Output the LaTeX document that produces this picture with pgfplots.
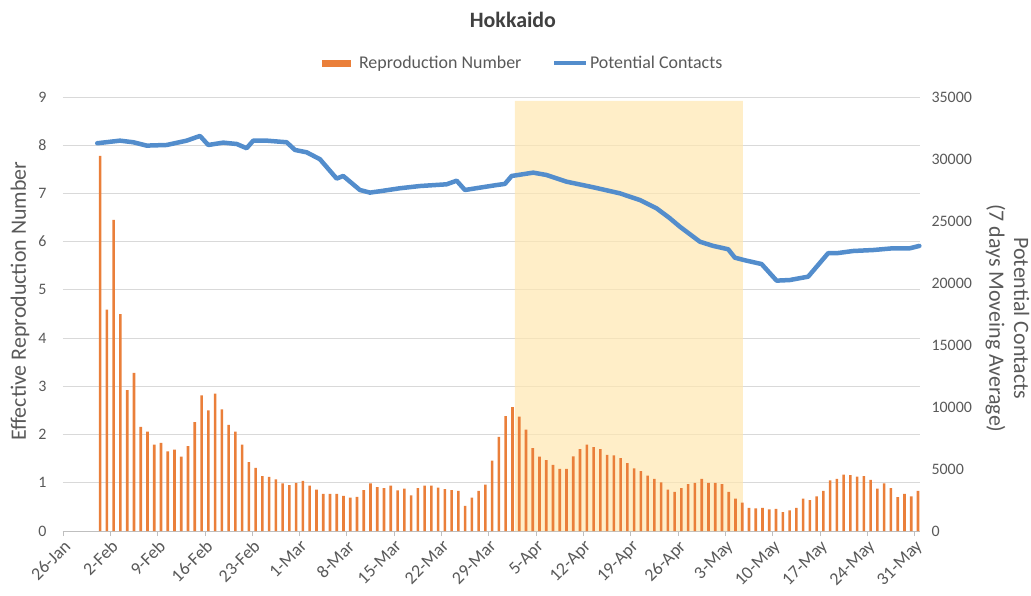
\documentclass[border=0pt]{standalone}
\usepackage{pgfplots}
\pgfplotsset{compat=1.18}
\usepackage{pgfplotstable}
\usepackage{fontspec}
\setmainfont{Carlito}

\definecolor{RepOrange}{RGB}{234,127,58}
\definecolor{ContBlue}{RGB}{83,141,204}
\definecolor{ShadeBase}{RGB}{255,231,176}
\definecolor{GridGray}{RGB}{217,217,217}
\definecolor{AxisGray}{RGB}{191,191,191}
\definecolor{TextGray}{RGB}{89,89,89}
\definecolor{TitleGray}{RGB}{64,64,64}

% day 0 = 26-Jan, effective reproduction number per day
\pgfplotstableread{
day r
5 7.78
6 4.59
7 6.45
8 4.50
9 2.92
10 3.28
11 2.16
12 2.06
13 1.79
14 1.83
15 1.65
16 1.69
17 1.54
18 1.76
19 2.26
20 2.81
21 2.50
22 2.85
23 2.52
24 2.20
25 2.06
26 1.79
27 1.43
28 1.31
29 1.14
30 1.12
31 1.07
32 0.99
33 0.95
34 1.00
35 1.04
36 0.94
37 0.86
38 0.77
39 0.77
40 0.77
41 0.73
42 0.69
43 0.71
44 0.85
45 0.99
46 0.91
47 0.89
48 0.94
49 0.84
50 0.88
51 0.74
52 0.89
53 0.94
54 0.94
55 0.90
56 0.87
57 0.85
58 0.83
59 0.52
60 0.69
61 0.83
62 0.96
63 1.46
64 1.95
65 2.38
66 2.57
67 2.37
68 2.10
69 1.72
70 1.54
71 1.47
72 1.37
73 1.29
74 1.29
75 1.55
76 1.70
77 1.79
78 1.74
79 1.70
80 1.58
81 1.57
82 1.51
83 1.41
84 1.30
85 1.24
86 1.15
87 1.08
88 1.01
89 0.86
90 0.81
91 0.89
92 0.97
93 1.00
94 1.08
95 1.00
96 1.00
97 0.97
98 0.81
99 0.67
100 0.59
101 0.48
102 0.47
103 0.48
104 0.45
105 0.46
106 0.39
107 0.43
108 0.48
109 0.67
110 0.64
111 0.72
112 0.83
113 1.05
114 1.08
115 1.17
116 1.16
117 1.13
118 1.14
119 1.06
120 0.88
121 0.99
122 0.89
123 0.70
124 0.77
125 0.72
126 0.83
}\reptable

% potential contacts, 7 days moving average
\pgfplotstableread{
x c
5.07 31270
8.43 31480
10.4 31350
12.38 31080
15.34 31130
18.3 31480
20.27 31860
21.49 31130
23.71 31320
25.7 31210
27.17 30870
28.15 31480
30.13 31480
33.09 31350
34.32 30730
36.05 30540
38.02 29980
40.49 28420
41.46 28630
43.93 27500
45.41 27290
46.89 27400
49.85 27640
52.81 27820
56.76 27960
58.24 28250
59.47 27500
61.69 27690
64.16 27900
65.38 27990
66.38 28630
69.57 28900
71.55 28710
74.51 28170
78.45 27720
82.4 27230
85.36 26690
87.83 26020
89.79 25220
91.27 24540
94.23 23330
96.2 22990
98.42 22720
99.41 22040
101.14 21800
103.36 21530
105.58 20190
107.54 20240
110.25 20510
113.2 22400
114.45 22400
116.9 22580
119.9 22660
122.8 22800
125.3 22800
126.7 22990
}\conttable

\begin{document}
\begin{tikzpicture}
\useasboundingbox (-63bp,-65bp) rectangle (968bp,531bp);

\begin{axis}[
  scale only axis,
  width=857bp, height=434bp,
  xmin=0, xmax=126.8,
  ymin=0, ymax=9,
  axis x line*=bottom, axis y line*=left,
  y axis line style={draw=none},
  x axis line style={draw=AxisGray, line width=0.8bp},
  xtick={0,7,...,126},
  xticklabels={26-Jan,2-Feb,9-Feb,16-Feb,23-Feb,1-Mar,8-Mar,15-Mar,22-Mar,29-Mar,5-Apr,12-Apr,19-Apr,26-Apr,3-May,10-May,17-May,24-May,31-May},
  x tick style={draw=AxisGray, line width=0.8bp},
  tick align=outside,
  major tick length=5bp,
  ytick={0,1,...,9},
  y tick style={draw=none},
  ymajorgrids,
  grid style={GridGray, line width=0.8bp},
  tick label style={font=\fontsize{16}{19}\selectfont, text=TextGray},
  /pgf/number format/assume math mode=true,
  xticklabel style={rotate=45, anchor=north east, inner sep=2bp,
    font=\fontsize{18}{20}\selectfont},
  yticklabel style={xshift=-8bp},
  ylabel={Effective Reproduction Number},
  ylabel style={font=\fontsize{22}{25}\selectfont, text=TextGray,
    at={(axis description cs:-0.05,0.53)}, anchor=center},
  legend columns=2,
  legend style={draw=none, fill=none, at={(axis description cs:0.537,1.078)},
    anchor=center, font=\fontsize{18}{21}\selectfont, text=TextGray,
    /tikz/every even column/.append style={column sep=29bp}},
  clip=false,
]
\addplot[fill=ShadeBase, fill opacity=0.7, draw=none, forget plot]
  coordinates {(66.86,0) (66.86,8.92) (100.6,8.92) (100.6,0)} \closedcycle;

\addplot[ybar, bar width=2.6bp, bar shift=0pt, fill=RepOrange, draw=none,
  legend image code/.code={\fill[RepOrange] (-4bp,-3.5bp) rectangle (25bp,3.5bp);
    \path (31bp,0bp);}]
  table[x expr=\thisrow{day}+0.5, y=r] {\reptable};
\addlegendentry{Reproduction Number}

\addlegendimage{ContBlue, line width=3bp,
  legend image code/.code={\draw[ContBlue, line width=3.5bp] (-2bp,0bp) -- (30bp,0bp);}}
\addlegendentry{Potential Contacts}

\node[font=\fontsize{22}{25}\selectfont\bfseries, text=TitleGray]
  at (axis description cs:0.525,1.177) {Hokkaido};
\end{axis}

\begin{axis}[
  scale only axis,
  width=857bp, height=434bp,
  xmin=0, xmax=126.8,
  ymin=0, ymax=35000,
  axis x line=none, axis y line*=right,
  y axis line style={draw=none},
  y tick style={draw=none},
  ytick={0,5000,...,35000},
  scaled y ticks=false,
  tick label style={font=\fontsize{16}{19}\selectfont, text=TextGray},
  /pgf/number format/assume math mode=true,
  yticklabel style={/pgf/number format/1000 sep={}, xshift=8bp},
  clip=false,
]
\addplot[ContBlue, line width=4.5bp, line join=round, line cap=round]
  table[x=x, y=c] {\conttable};

\node[rotate=-90, align=center, font=\fontsize{22}{25}\selectfont, text=TextGray]
  at (axis description cs:1.102,0.49) {Potential Contacts\\(7 days Moveing Average)};
\end{axis}
\end{tikzpicture}
\end{document}
